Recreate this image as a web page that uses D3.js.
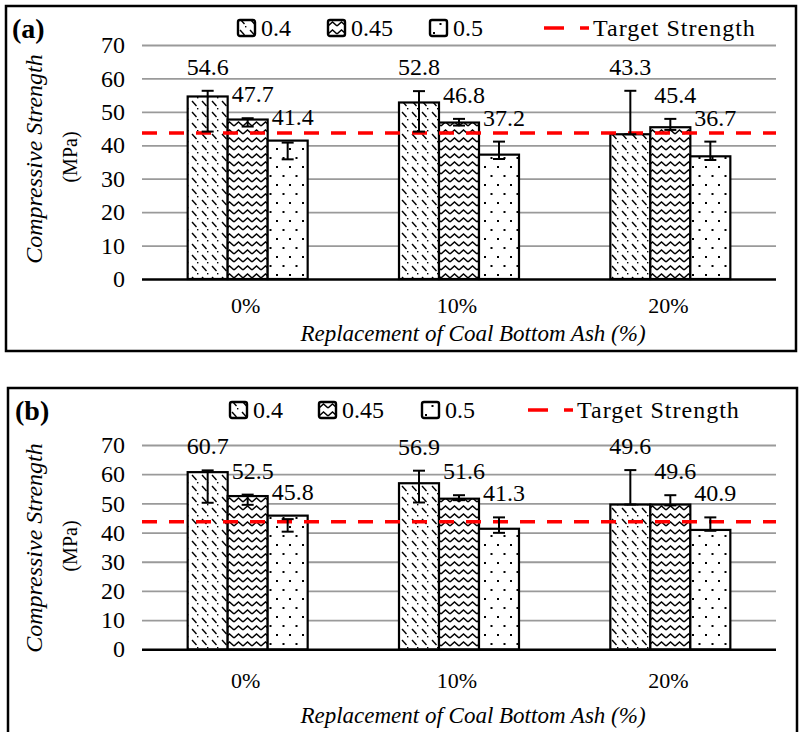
<!DOCTYPE html>
<html>
<head>
<meta charset="utf-8">
<script src="https://cdn.jsdelivr.net/npm/d3@7"></script>
<style>
body { margin:0; background:#fff; }
svg { display:block; font-family:"Liberation Serif","Times New Roman",serif; }
</style>
</head>
<body>
<svg id="chart" width="800" height="732"></svg>
<script>
var categories = ['0%', '10%', '20%'];
var series = ['0.4', '0.45', '0.5'];
var yTicks = [0, 10, 20, 30, 40, 50, 60, 70];
var target = 43.7;

// panel (a)
var a_04 = [54.6, 52.8, 43.3];
var a_045 = [47.7, 46.8, 45.4];
var a_05 = [41.4, 37.2, 36.7];
var a_04_lo = [44.1, 44.1, 43.3], a_04_hi = [56.3, 56.2, 56.3];
var a_045_lo = [45.6, 45.9, 44.6], a_045_hi = [48.1, 47.9, 47.9];
var a_05_lo = [35.8, 35.9, 35.6], a_05_hi = [40.8, 41.1, 41.1];

// panel (b)
var b_04 = [60.7, 56.9, 49.6];
var b_045 = [52.5, 51.6, 49.6];
var b_05 = [45.8, 41.3, 40.9];
var b_04_lo = [50.2, 50.3, 49.6], b_04_hi = [61.3, 61.2, 61.4];
var b_045_lo = [49.5, 51.1, 49.3], b_045_hi = [53.0, 52.8, 52.8];
var b_05_lo = [40.3, 39.9, 40.6], b_05_hi = [44.6, 45.2, 45.2];

var svg = d3.select('#chart');
var defs = svg.append('defs');

// fill patterns like the excel ones
var p1 = defs.append('pattern').attr('id', 'pat0').attr('patternUnits', 'userSpaceOnUse')
  .attr('width', 10).attr('height', 11);
p1.append('rect').attr('width', 10).attr('height', 11).attr('fill', '#fff');
p1.append('path').attr('d', 'M2,2 L6.5,7').attr('stroke', '#000').attr('stroke-width', 1.4);
p1.append('rect').attr('x', 7).attr('y', 9).attr('width', 1.4).attr('height', 1.4).attr('fill', '#000');

var p2 = defs.append('pattern').attr('id', 'pat1').attr('patternUnits', 'userSpaceOnUse')
  .attr('width', 9).attr('height', 8);
p2.append('rect').attr('width', 9).attr('height', 8).attr('fill', '#fff');
p2.append('path').attr('d', 'M0,6 L4.5,2 L9,6').attr('fill', 'none').attr('stroke', '#000').attr('stroke-width', 1.5);

var p3 = defs.append('pattern').attr('id', 'pat2').attr('patternUnits', 'userSpaceOnUse')
  .attr('width', 13).attr('height', 18);
p3.append('rect').attr('width', 13).attr('height', 18).attr('fill', '#fff');
p3.append('rect').attr('x', 3).attr('y', 4).attr('width', 2).attr('height', 2).attr('fill', '#000');
p3.append('rect').attr('x', 9.5).attr('y', 13).attr('width', 2).attr('height', 2).attr('fill', '#000');

function drawPanel(p, vals, lo, hi) {
  var g = svg.append('g');

  var y = d3.scaleLinear().domain([0, 70]).range([p.y0, p.y70]);
  var x = d3.scaleBand().domain(categories).range([142, 776]);
  var inner = d3.scaleBand().domain(series).range([0, 120]);

  // frame
  g.append('path').attr('d', p.frame).attr('fill', 'none').attr('stroke', '#000').attr('stroke-width', 2.5);

  g.append('text').attr('x', p.letterX).attr('y', p.letterY)
    .style('font-size', '28px').style('font-weight', 'bold').text(p.letter);

  // y axis with gridlines
  var axis = g.append('g').attr('transform', 'translate(142,0)')
    .call(d3.axisLeft(y).tickValues(yTicks).tickSize(-634).tickPadding(17));
  axis.select('.domain').remove();
  axis.selectAll('line').attr('stroke', '#9a9a9a').attr('stroke-width', 1.8);
  axis.selectAll('text').style('font-size', '24px').style('font-family', '"Liberation Serif",serif').attr('fill', '#000');
  axis.selectAll('.tick').filter(function(d) { return d == 0; }).select('line')
    .attr('stroke', '#000').attr('stroke-width', 2.5);

  function barX(ci, si) {
    return x(categories[ci]) + x.bandwidth() / 2 - 60 + inner(series[si]);
  }

  var rows = [];
  series.forEach(function(s, si) {
    categories.forEach(function(c, ci) {
      rows.push({si: si, ci: ci, v: vals[si][ci], lo: lo[si][ci], hi: hi[si][ci]});
    });
  });

  g.selectAll('rect.bar').data(rows).enter().append('rect')
    .attr('class', 'bar')
    .attr('x', function(d) { return barX(d.ci, d.si); })
    .attr('y', function(d) { return y(d.v); })
    .attr('width', inner.bandwidth())
    .attr('height', function(d) { return y(0) - y(d.v); })
    .attr('fill', function(d) { return 'url(#pat' + d.si + ')'; })
    .attr('stroke', '#000').attr('stroke-width', 2.2);

  // target line
  g.append('line').attr('x1', 142).attr('x2', 776).attr('y1', y(target)).attr('y2', y(target))
    .attr('stroke', '#ff0000').attr('stroke-width', 3.5).attr('stroke-dasharray', '15,12');

  // error bars
  var eb = g.selectAll('g.err').data(rows).enter().append('g').attr('class', 'err')
    .attr('stroke', '#000').attr('stroke-width', 2);
  eb.append('line')
    .attr('x1', function(d) { return barX(d.ci, d.si) + inner.bandwidth() / 2; })
    .attr('x2', function(d) { return barX(d.ci, d.si) + inner.bandwidth() / 2; })
    .attr('y1', function(d) { return y(d.lo); })
    .attr('y2', function(d) { return y(d.hi); });
  [ 'lo', 'hi' ].forEach(function(k) {
    eb.append('line')
      .attr('x1', function(d) { return barX(d.ci, d.si) + inner.bandwidth() / 2 - 6; })
      .attr('x2', function(d) { return barX(d.ci, d.si) + inner.bandwidth() / 2 + 6; })
      .attr('y1', function(d) { return y(d[k]); })
      .attr('y2', function(d) { return y(d[k]); });
  });

  // data labels above bar or error bar
  g.selectAll('text.lab').data(rows).enter().append('text')
    .attr('class', 'lab')
    .attr('x', function(d) { return barX(d.ci, d.si) + inner.bandwidth() / 2 + (d.si == 0 ? 0 : 5); })
    .attr('y', function(d) { return y(Math.max(d.v, d.hi)) - 16; })
    .attr('text-anchor', 'middle')
    .style('font-size', '24px')
    .text(function(d) { return d.v.toFixed(1); });

  // category labels
  g.selectAll('text.cat').data(categories).enter().append('text')
    .attr('class', 'cat')
    .attr('x', function(d) { return x(d) + x.bandwidth() / 2 - 2; })
    .attr('y', p.catY)
    .attr('text-anchor', 'middle')
    .style('font-size', '22px')
    .text(function(d) { return d; });

  g.append('text').attr('x', 473).attr('y', p.titleY).attr('text-anchor', 'middle')
    .style('font-size', '23px').style('font-style', 'italic')
    .text('Replacement of Coal Bottom Ash (%)');

  g.append('text').attr('transform', 'translate(34,' + p.ylabY + ') rotate(-90)')
    .attr('text-anchor', 'middle').attr('dominant-baseline', 'central')
    .style('font-size', '24px').style('font-style', 'italic')
    .text('Compressive Strength');
  g.append('text').attr('transform', 'translate(70,' + (p.ylabY - 2) + ') rotate(-90)')
    .attr('text-anchor', 'middle').attr('dominant-baseline', 'central')
    .style('font-size', '20px')
    .text('(MPa)');

  // legend
  var leg = g.selectAll('g.leg').data(series).enter().append('g').attr('class', 'leg')
    .attr('transform', function(d, i) { return 'translate(' + p.legX[i] + ',' + p.legY + ')'; });
  leg.append('rect').attr('x', 0).attr('y', -8).attr('width', 17).attr('height', 16).attr('rx', 2)
    .attr('fill', function(d, i) { return 'url(#pat' + i + ')'; })
    .attr('stroke', '#000').attr('stroke-width', 2.4);
  leg.append('text').attr('x', 23).attr('y', 8).style('font-size', '24px').text(function(d) { return d; });

  g.append('line').attr('x1', p.redX).attr('x2', p.redX + 45).attr('y1', p.legY).attr('y2', p.legY)
    .attr('stroke', '#ff0000').attr('stroke-width', 3.5).attr('stroke-dasharray', '20,16');
  g.append('text').attr('x', p.redX + 49).attr('y', p.legY + 8).style('font-size', '24px')
    .style('letter-spacing', '1px').text('Target Strength');
}

drawPanel({
  letter: '(a)', letterX: 12, letterY: 38,
  frame: 'M6,6 H796 V351 H6 Z',
  y0: 279, y70: 45,
  legX: [238, 328, 430], legY: 28, redX: 544,
  catY: 313, titleY: 341, ylabY: 159
}, [a_04, a_045, a_05], [a_04_lo, a_045_lo, a_05_lo], [a_04_hi, a_045_hi, a_05_hi]);

drawPanel({
  letter: '(b)', letterX: 15, letterY: 420,
  frame: 'M8,734 V388 H797 V734',
  y0: 649.3, y70: 445,
  legX: [230, 319, 422], legY: 410, redX: 528,
  catY: 688, titleY: 723, ylabY: 548
}, [b_04, b_045, b_05], [b_04_lo, b_045_lo, b_05_lo], [b_04_hi, b_045_hi, b_05_hi]);
</script>
</body>
</html>
